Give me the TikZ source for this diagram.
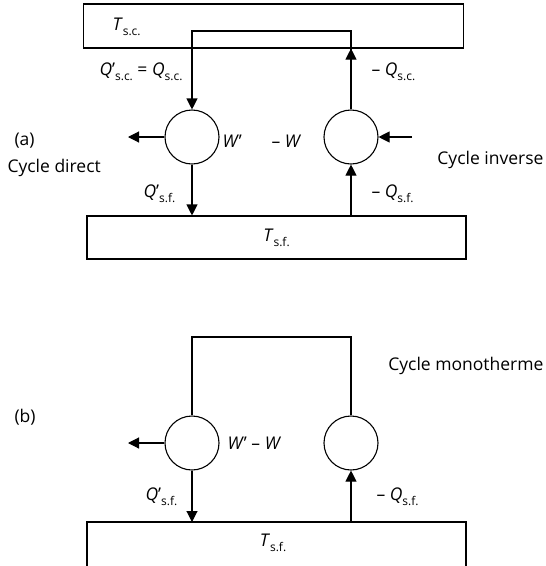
\documentclass[tikz,border=0pt]{standalone}
\usepackage{fontspec}
\setmainfont{Open Sans}
\usetikzlibrary{arrows.meta}

\newcommand\idx[1]{\raisebox{-0.55ex}{\fontsize{12}{13}\selectfont #1}}

\tikzset{
  flow/.style={-{Triangle[width=11pt,length=11pt]}},
  engine/.style={draw,circle,minimum size=54pt,inner sep=0pt},
  lbl/.style={font=\fontsize{17.5}{20}\selectfont,inner sep=0pt},
}

\begin{document}
\begin{tikzpicture}[x=1pt,y=-1pt,line width=1.1pt]
\useasboundingbox (0,0) rectangle (546,566);

% (a) cycle direct et cycle inverse
\node[draw,minimum width=380pt,minimum height=44pt] (hot) at (273.5,26) {};
\node[draw,lbl,minimum width=379pt,minimum height=43pt] (cold) at (276.5,237.5) {\textit{T}\idx{s.f.}};
\node[engine] (c1) at (192,137) {};
\node[engine] (c2) at (351,137) {};
\coordinate (loopa) at (271,31);
\coordinate (wouta) at (128,137);
\coordinate (wina) at (412,137);

\draw[flow] (c2.north) |- (loopa) -| (c1.north);
\draw[flow] (c2.north) -- (c2 |- hot.south);
\draw[flow] (c1.west) -- (wouta);
\draw[flow] (wina) -- (c2.east);
\draw[flow] (c1.south) -- (c1 |- cold.north);
\draw[flow] (c2 |- cold.north) -- (c2.south);

\node[lbl,anchor=west] (tsc) at (112,27) {\textit{T}\idx{s.c.}};
\node[lbl,anchor=east] (qsc) at (183,72) {\textit{Q}’\idx{s.c.} = \textit{Q}\idx{s.c.}};
\node[lbl,anchor=west] (mqsc) at (371,72) {– \textit{Q}\idx{s.c.}};
\node[lbl,anchor=west] (wp) at (222,141) {\textit{W}’};
\node[lbl,anchor=west] (mw) at (271,141) {– \textit{W}};
\node[lbl,anchor=west] (qsf) at (143,194) {\textit{Q}’\idx{s.f.}};
\node[lbl,anchor=west] (mqsf) at (371,194) {– \textit{Q}\idx{s.f.}};
\node[lbl,anchor=west] (tag a) at (14,141) {(a)};
\node[lbl,anchor=west] (direct) at (7,168) {Cycle direct};
\node[lbl,anchor=east] (inverse) at (544,160) {Cycle inverse};

% (b) cycle monotherme
\node[engine] (c3) at (192,443) {};
\node[engine] (c4) at (351,443) {};
\coordinate (loopb) at (271,337);
\coordinate (woutb) at (128,443);
\coordinate (coldb) at (276.5,522);

\draw (87,566) |- (coldb) -| (466,566);
\draw (c4.north) |- (loopb) -| (c3.north);
\draw[flow] (c3.west) -- (woutb);
\draw[flow] (c3.south) -- (c3 |- coldb);
\draw[flow] (c4 |- coldb) -- (c4.south);

\node[lbl] (tsfb) at (273,543) {\textit{T}\idx{s.f.}};
\node[lbl,anchor=west] (wpw) at (227,443) {\textit{W}’ – \textit{W}};
\node[lbl,anchor=west] (qsfb) at (145,497) {\textit{Q}’\idx{s.f.}};
\node[lbl,anchor=west] (mqsfb) at (376,497) {– \textit{Q}\idx{s.f.}};
\node[lbl,anchor=west] (tag b) at (14,417) {(b)};
\node[lbl,anchor=east] (mono) at (544,366) {Cycle monotherme};
\end{tikzpicture}
\end{document}
